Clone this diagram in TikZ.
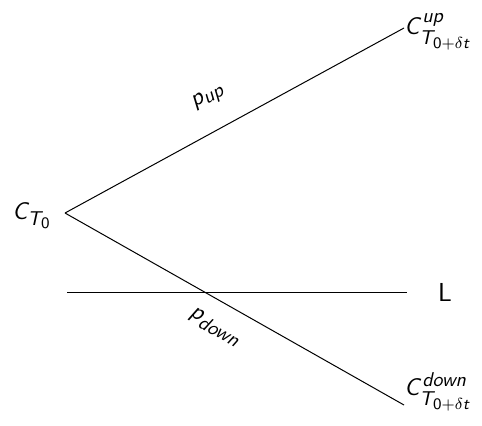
\documentclass[tikz,border=0pt]{standalone}
\usepackage{amsmath,amssymb}
\usepackage{tikz}
\usetikzlibrary{positioning}
\DeclareMathAlphabet{\mathsfsl}{OT1}{cmss}{m}{sl}
\DeclareMathAlphabet{\mathsfup}{OT1}{cmss}{m}{n}
\DeclareMathSizes{13}{13}{10}{8}

\begin{document}
\begin{tikzpicture}[
  x=0.5pt, y=-0.5pt,
  state/.style={inner sep=1pt, font=\fontsize{13}{15}\selectfont},
  branch/.style={line width=0.5pt},
  prob/.style={sloped, font=\fontsize{13}{15}\selectfont}
]
\useasboundingbox (0,0) rectangle (482,425);
\node[state, anchor=east] (c0) at (54,216) {$\mathsfsl{C}_{\mathsfsl{T}_{\mathsfup{0}}}$};
\node[state, anchor=west] (cup) at (402,32) {$\mathsfsl{C}^{\mathsfsl{up}}_{\mathsfsl{T}_{\mathsfup{0+}\delta \mathsfsl{t}}}$};
\node[state, anchor=west] (cdown) at (402,392) {$\mathsfsl{C}^{\mathsfsl{down}}_{\mathsfsl{T}_{\mathsfup{0+}\delta \mathsfsl{t}}}$};
\coordinate (root) at (65,213);
\coordinate (upend) at (404,28);
\coordinate (downend) at (404,405);
\coordinate (lstart) at (67,292);
\coordinate (lend) at (407,292);
\node[state, right=19pt of lend, anchor=center] (lev) {\sffamily L};
\draw[branch] (root) -- node[prob, pos=0.47, above=8pt] {$\mathsfsl{p}_{\mathsfsl{up}}$} (upend);
\draw[branch] (root) -- node[prob, pos=0.48, below=5pt] {$\mathsfsl{p}_{\mathsfsl{down}}$} (downend);
\draw[branch] (lstart) -- (lend);
\end{tikzpicture}
\end{document}
